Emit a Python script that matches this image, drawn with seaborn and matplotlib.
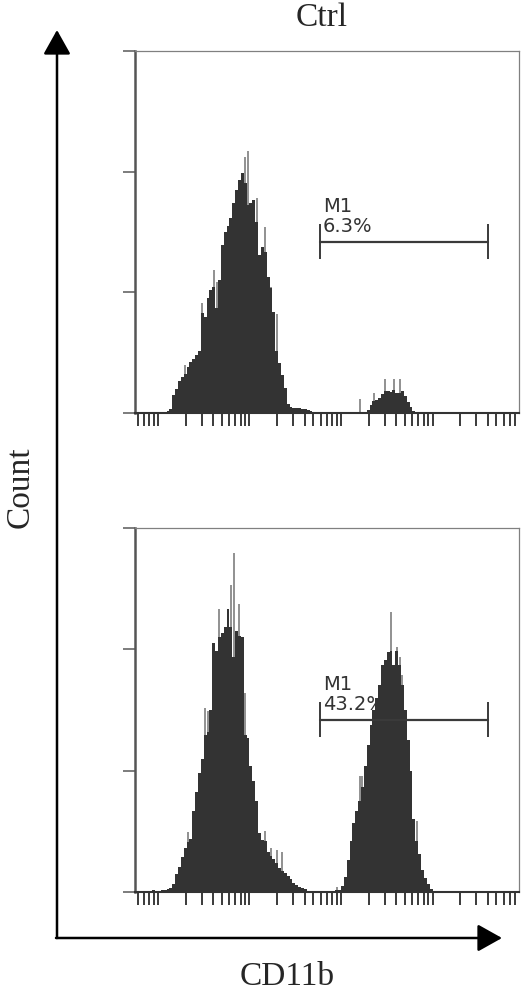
import numpy as np
import pandas as pd
import seaborn as sns
import matplotlib.pyplot as plt
from matplotlib.ticker import LogLocator, NullLocator

# flow histograms, CD11b intensity on a 4-decade log axis
# channels are binned 32 per decade (bin k covers 10^(k/32) .. 10^((k+1)/32))
BINS_PER_DECADE = 32

# Ctrl panel
ctrl_bins = list(range(3, 54)) + list(range(70, 90))
ctrl_counts = [2, 4, 18, 24, 32, 36, 39, 46, 51, 54, 58, 62, 99, 95, 114, 122, 125,
               104, 132, 167, 180, 186, 194, 209, 222, 232, 239, 229, 207, 209, 212,
               190, 157, 165, 160, 135, 124, 100, 62, 50, 38, 25, 9, 6, 5, 5, 5, 4,
               4, 3, 2,
               1, 1, 1, 3, 8, 12, 13, 15, 19, 22, 22, 21, 23, 20, 20, 22, 17, 11, 6, 2]
ctrl_spike_bins = [9, 15, 19, 20, 30, 31, 34, 37, 39, 41, 70, 75, 79, 82, 84]
ctrl_spike_counts = [48, 109, 142, 130, 255, 261, 214, 185, 125, 98, 14, 20, 34, 34, 34]
ctrl_pct = "6.3%"

# treated panel
trt_bins = list(range(-3, 53)) + list(range(62, 96))
trt_counts = [1, 2, 1, 1, 2, 2, 3, 4, 8, 18, 25, 35, 44, 49, 52, 80, 99, 118, 132,
              155, 158, 180, 246, 238, 252, 256, 262, 280, 262, 232, 258, 253, 252,
              155, 152, 125, 110, 90, 58, 51, 50, 40, 36, 33, 29, 24, 21, 19, 16, 13,
              9, 7, 5, 4, 3, 1,
              2, 2, 6, 15, 32, 50, 68, 80, 90, 104, 125, 145, 165, 180, 192, 205, 225,
              229, 237, 238, 225, 238, 225, 205, 180, 150, 120, 72, 50, 38, 22, 14, 8, 3]
trt_spike_bins = [10, 16, 17, 21, 25, 26, 28, 30, 37, 39, 41, 43,
                  62, 70, 71, 81, 83, 84, 85, 90]
trt_spike_counts = [59, 182, 179, 280, 304, 335, 285, 197, 60, 44, 42, 40,
                    5, 115, 115, 277, 242, 232, 215, 70]
trt_pct = "43.2%"

# M1 gate (intensity units)
gate_lo, gate_hi = 59, 4040

FILL = "#333333"
SPIKE = "#909090"
TXT = "#333333"

sns.set_theme(style="white")
plt.rcParams["font.family"] = ["DejaVu Sans"]

fig = plt.figure(figsize=(5.25, 9.99), dpi=100)
ax_top = fig.add_axes([135 / 525, 1 - 413 / 999, 384 / 525, 362 / 999])
ax_bot = fig.add_axes([135 / 525, 1 - 892 / 999, 384 / 525, 364 / 999])


def draw_panel(ax, bins, counts, spike_bins, spike_counts, pct):
    bins = np.array(bins)
    edges = list(10 ** (np.arange(-10, 132) / BINS_PER_DECADE))
    df = pd.DataFrame({"cd11b": 10 ** ((bins + 0.5) / BINS_PER_DECADE),
                       "n": counts})
    sns.histplot(data=df, x="cd11b", weights="n", bins=edges, element="step",
                 fill=True, color=FILL, alpha=1, linewidth=0, zorder=3, ax=ax)
    sx = 10 ** ((np.array(spike_bins) + 0.5) / BINS_PER_DECADE)
    ax.vlines(sx, 0, spike_counts, colors=SPIKE, lw=1.4, zorder=2)

    ax.set_xscale("log")
    ax.set_xlim(10 ** -0.251, 10 ** 3.945)
    ax.set_ylim(0, 360)
    ax.set_xlabel("")
    ax.set_ylabel("")
    ax.xaxis.set_major_locator(LogLocator(base=10, subs=np.arange(1, 10), numticks=60))
    ax.xaxis.set_minor_locator(NullLocator())
    ax.set_yticks([0, 120, 240, 360])
    ax.tick_params(axis="x", direction="out", length=9, width=1.4, color="#3a3a3a",
                   labelbottom=False, bottom=True)
    ax.tick_params(axis="y", direction="out", length=9, width=1.2, color="#666666",
                   labelleft=False, left=True)

    for side in ["top", "right"]:
        ax.spines[side].set_color("#808080")
        ax.spines[side].set_linewidth(0.9)
    ax.spines["left"].set_color("#555555")
    ax.spines["left"].set_linewidth(1.8)
    ax.spines["bottom"].set_color("#333333")
    ax.spines["bottom"].set_linewidth(1.5)
    ax.spines["bottom"].set_zorder(4)

    # M1 gate marker
    ax.plot([gate_lo, gate_hi], [170, 170], color="#3a3a3a", lw=1.6, zorder=5)
    ax.vlines([gate_lo, gate_hi], 153, 188, colors="#3a3a3a", lw=1.4, zorder=5)
    ax.text(gate_lo * 1.08, 200, "M1", fontsize=14, color=TXT, va="baseline",
            ha="left", zorder=6)
    ax.text(gate_lo * 1.08, 180, pct, fontsize=14, color=TXT, va="baseline",
            ha="left", zorder=6)


draw_panel(ax_top, ctrl_bins, ctrl_counts, ctrl_spike_bins, ctrl_spike_counts, ctrl_pct)
draw_panel(ax_bot, trt_bins, trt_counts, trt_spike_bins, trt_spike_counts, trt_pct)

# big axis arrows
ov = fig.add_axes([0, 0, 1, 1], zorder=-1)
ov.set_xlim(0, 525)
ov.set_ylim(999, 0)
ov.axis("off")
arrow = dict(arrowstyle="-|>,head_length=0.75,head_width=0.42", mutation_scale=20,
             lw=1.8, color="black", shrinkA=0, shrinkB=0)
ov.annotate("", xy=(57, 30), xytext=(57, 938), arrowprops=arrow)
ov.annotate("", xy=(502, 938), xytext=(56, 938), arrowprops=arrow)

serif = ["Liberation Serif", "DejaVu Serif"]
fig.text(322 / 525, 1 - 18 / 999, "Ctrl", fontsize=24, family=serif,
         ha="center", va="center")
fig.text(287 / 525, 1 - 977 / 999, "CD11b", fontsize=24, family=serif,
         ha="center", va="center")
fig.text(20 / 525, 1 - 487 / 999, "Count", fontsize=24, family=serif,
         ha="center", va="center", rotation=90)

fig.savefig("out.png", dpi=100)
